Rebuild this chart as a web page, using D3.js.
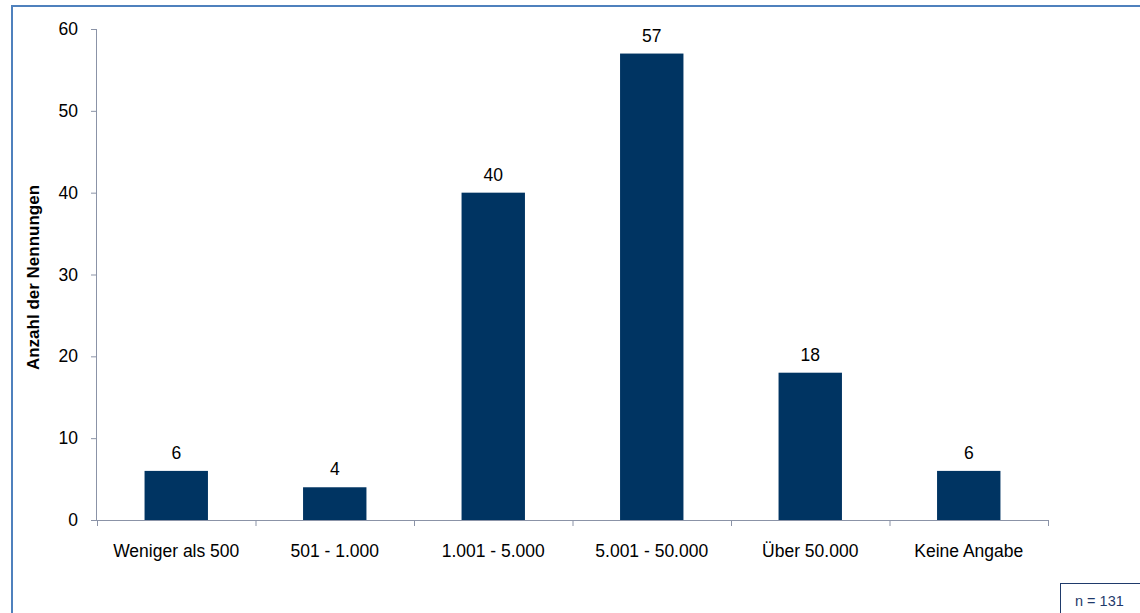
<!DOCTYPE html>
<html>
<head>
<meta charset="utf-8">
<script src="https://cdn.jsdelivr.net/npm/d3@7"></script>
<style>
  body { margin: 0; background: #fff; }
  svg { display: block; font-family: "Liberation Sans", Arial, sans-serif; }
</style>
</head>
<body>
<div id="chart"></div>
<script>
const categories = ["Weniger als 500", "501 - 1.000", "1.001 - 5.000", "5.001 - 50.000", "Über 50.000", "Keine Angabe"];
const counts = [6, 4, 40, 57, 18, 6];
const yTicks = [0, 10, 20, 30, 40, 50, 60];
const yTitle = "Anzahl der Nennungen";
const sampleNote = "n = 131";

const width = 1140, height = 613;
const plot = { left: 97, right: 1048, top: 29, bottom: 520 };

const svg = d3.select("#chart").append("svg")
  .attr("width", width)
  .attr("height", height);

// outer frame (runs off the right and bottom edges)
svg.append("rect")
  .attr("x", 12).attr("y", 6)
  .attr("width", 1140).attr("height", 620)
  .attr("fill", "none")
  .attr("stroke", "#4f81bd")
  .attr("stroke-width", 2);

const x = d3.scaleBand()
  .domain(categories)
  .range([plot.left, plot.right])
  .paddingInner(0.6)
  .paddingOuter(0.3);

const y = d3.scaleLinear()
  .domain([0, 60])
  .range([plot.bottom, plot.top]);

const axisColor = "#8b93a7";

// y axis
const yAxis = svg.append("g")
  .attr("transform", `translate(${plot.left},0)`)
  .call(d3.axisLeft(y).tickValues(yTicks).tickSize(6).tickPadding(13));
yAxis.select(".domain").attr("stroke", axisColor).attr("d", `M-0.5,${plot.top}V${plot.bottom}`);
yAxis.selectAll(".tick line").attr("stroke", axisColor);
yAxis.selectAll(".tick text")
  .attr("fill", "#000")
  .style("font-size", "17.5px");

// x axis: ticks at category boundaries
const step = x.step();
const boundaries = d3.range(categories.length + 1).map(i => plot.left + i * step);
const xAxis = svg.append("g");
xAxis.append("line")
  .attr("x1", plot.left - 6).attr("x2", plot.right)
  .attr("y1", plot.bottom + 0.5).attr("y2", plot.bottom + 0.5)
  .attr("stroke", axisColor);
xAxis.selectAll("line.tick")
  .data(boundaries)
  .join("line")
  .attr("class", "tick")
  .attr("x1", d => d + 0.5).attr("x2", d => d + 0.5)
  .attr("y1", plot.bottom).attr("y2", plot.bottom + 6)
  .attr("stroke", axisColor);

xAxis.selectAll("text")
  .data(categories)
  .join("text")
  .attr("x", d => x(d) + x.bandwidth() / 2)
  .attr("y", 557)
  .attr("text-anchor", "middle")
  .style("font-size", "17.5px")
  .attr("fill", "#000")
  .text(d => d);

// bars
svg.append("g").selectAll("rect")
  .data(counts)
  .join("rect")
  .attr("x", (d, i) => x(categories[i]))
  .attr("y", d => y(d))
  .attr("width", x.bandwidth())
  .attr("height", d => y(0) - y(d))
  .attr("fill", "#003462");

// value labels
svg.append("g").selectAll("text")
  .data(counts)
  .join("text")
  .attr("x", (d, i) => x(categories[i]) + x.bandwidth() / 2)
  .attr("y", d => y(d) - 12)
  .attr("text-anchor", "middle")
  .style("font-size", "17.5px")
  .attr("fill", "#000")
  .text(d => d);

// y title
svg.append("text")
  .attr("transform", `translate(39,${(plot.top + plot.bottom) / 2 + 3}) rotate(-90)`)
  .attr("text-anchor", "middle")
  .style("font-size", "17px")
  .style("font-weight", "bold")
  .attr("fill", "#000")
  .text(yTitle);

// sample size box
svg.append("rect")
  .attr("x", 1060.5).attr("y", 583.5)
  .attr("width", 100).attr("height", 50)
  .attr("fill", "#fff")
  .attr("stroke", "#1f3a6b")
  .attr("stroke-width", 1);
svg.append("text")
  .attr("x", 1075).attr("y", 606)
  .style("font-size", "14.5px")
  .attr("fill", "#1f3a6b")
  .text(sampleNote);
</script>
</body>
</html>
